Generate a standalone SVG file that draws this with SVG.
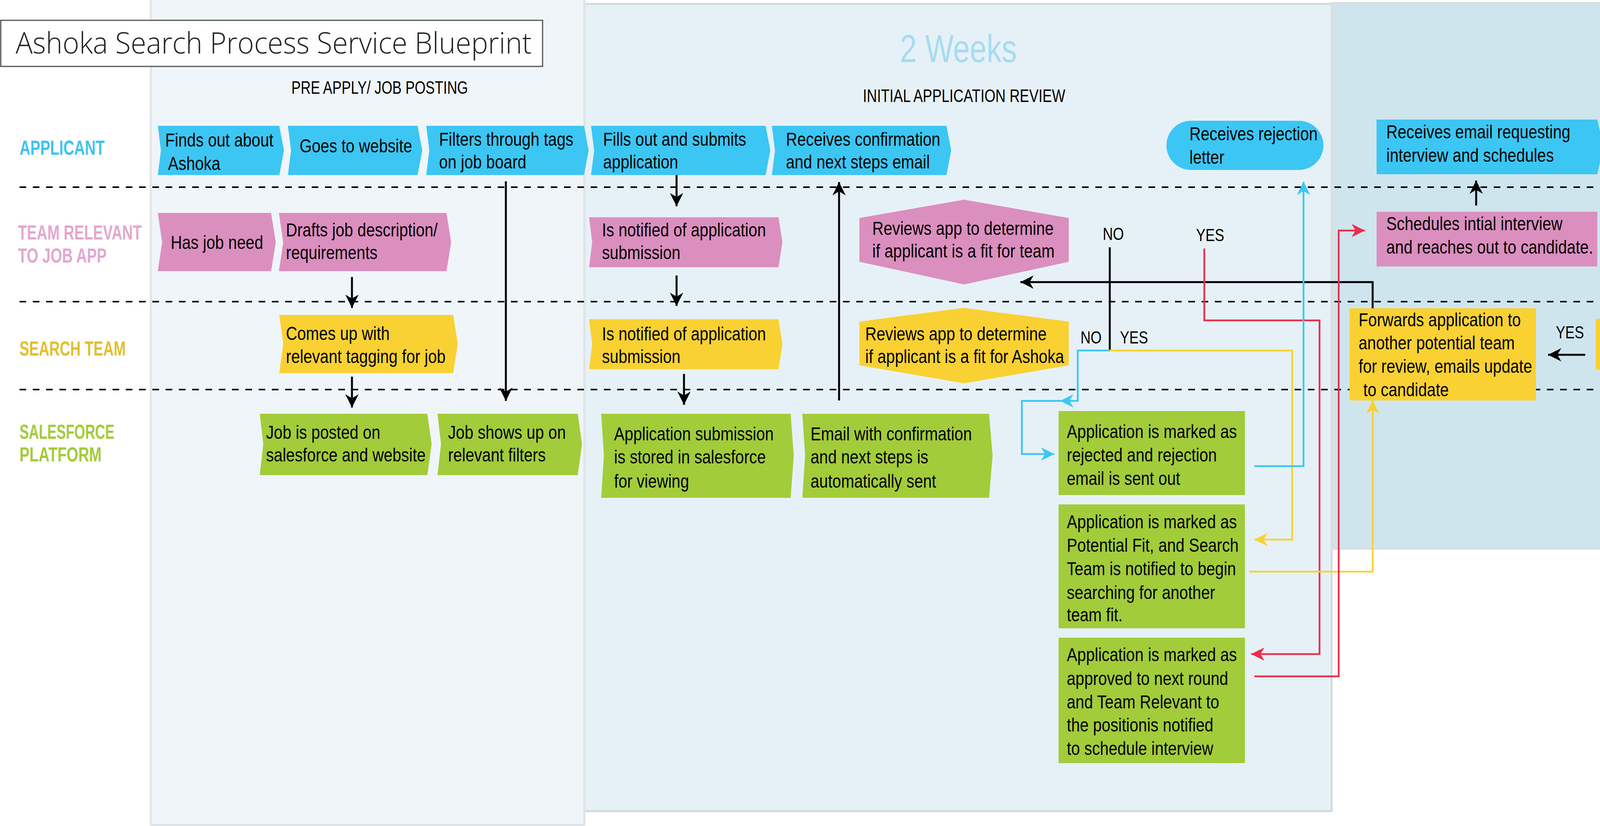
<svg xmlns="http://www.w3.org/2000/svg" width="6898" height="2114" viewBox="0 0 6898 2114">
<defs>
<style>
.t{font-family:'Liberation Sans',Arial,sans-serif;font-size:49px;fill:#000}
.lbl{font-family:'Liberation Sans',Arial,sans-serif;font-size:44px;fill:#000}
.lane{font-family:'Liberation Sans',Arial,sans-serif;font-size:52px;font-weight:bold}
.hd{font-family:'Liberation Sans',Arial,sans-serif;font-size:47px;fill:#000}
.wk{font-family:'Liberation Sans',Arial,sans-serif;font-size:100px;fill:#a6dcf0}
.note{font-family:'Liberation Sans',Arial,sans-serif;font-size:44px;fill:#000}
.blue{fill:#3cc6f3}.pink{fill:#db8fbf}.yel{fill:#f9d132}.grn{fill:#a2cc3a}.pur{fill:#8f8fc7}
.dash{stroke:#000;stroke-width:4;stroke-dasharray:17 17;fill:none}
.k{stroke:#000;stroke-width:5;fill:none}
.cb{stroke:#3cc6f3;stroke-width:4.5;fill:none}
.cy{stroke:#f9d132;stroke-width:4.5;fill:none}
.cr{stroke:#ee2c4b;stroke-width:4.5;fill:none}
</style>
<marker id="ak" viewBox="0 0 10 10" refX="10" refY="5" markerWidth="34" markerHeight="34" markerUnits="userSpaceOnUse" orient="auto"><path d="M0,0 L10,5 L0,10 L3,5 Z" fill="#000"/></marker>
<marker id="ab" viewBox="0 0 10 10" refX="10" refY="5" markerWidth="34" markerHeight="34" markerUnits="userSpaceOnUse" orient="auto"><path d="M0,0 L10,5 L0,10 L3,5 Z" fill="#3cc6f3"/></marker>
<marker id="ay" viewBox="0 0 10 10" refX="10" refY="5" markerWidth="34" markerHeight="34" markerUnits="userSpaceOnUse" orient="auto"><path d="M0,0 L10,5 L0,10 L3,5 Z" fill="#f9d132"/></marker>
<marker id="ar" viewBox="0 0 10 10" refX="10" refY="5" markerWidth="34" markerHeight="34" markerUnits="userSpaceOnUse" orient="auto"><path d="M0,0 L10,5 L0,10 L3,5 Z" fill="#ee2c4b"/></marker>
</defs>
<rect width="6898" height="2114" fill="#ffffff"/>
<g id="panels">
<rect x="1496" y="10" width="1913" height="2066" fill="#e6f1f7" stroke="#d5d9dc" stroke-width="5"/>
<rect x="3409" y="8" width="3482" height="1396" fill="#cfe5ee" stroke="#dcdee0" stroke-width="6"/>
<rect x="386" y="-5" width="1110" height="2116" fill="#eff5f9" stroke="#e0e3e6" stroke-width="5"/>
</g>
<g id="title">
<rect x="2" y="52" width="1387" height="118" fill="#ffffff" stroke="#555555" stroke-width="3"/>
<text x="40" y="137" font-family="'Open Sans','Lato','Liberation Sans',sans-serif" font-weight="300" font-size="76" fill="#222" textLength="1321" lengthAdjust="spacingAndGlyphs">Ashoka Search Process Service Blueprint</text>
</g>
<g id="headings">
<text class="hd" x="746" y="240" textLength="452" lengthAdjust="spacingAndGlyphs">PRE APPLY/ JOB POSTING</text>
<text class="wk" x="2304" y="159" textLength="299" lengthAdjust="spacingAndGlyphs">2 Weeks</text>
<text class="hd" x="2209" y="261" textLength="518" lengthAdjust="spacingAndGlyphs">INITIAL APPLICATION REVIEW</text>
<text class="wk" x="4450" y="140" textLength="299" lengthAdjust="spacingAndGlyphs">2 Weeks</text>
<text class="hd" x="4437" y="224" textLength="326" lengthAdjust="spacingAndGlyphs">INTERVIEW PHASE</text>
</g>
<g id="lanes">
<text class="lane" x="50" y="396" fill="#3fc3ef" textLength="218" lengthAdjust="spacingAndGlyphs">APPLICANT</text>
<text class="lane" x="46" y="613" fill="#e2a7d0" textLength="317" lengthAdjust="spacingAndGlyphs">TEAM RELEVANT</text>
<text class="lane" x="46" y="672" fill="#e2a7d0" textLength="227" lengthAdjust="spacingAndGlyphs">TO JOB APP</text>
<text class="lane" x="50" y="910" fill="#e2bf2e" textLength="272" lengthAdjust="spacingAndGlyphs">SEARCH TEAM</text>
<text class="lane" x="50" y="1123" fill="#a3cb3b" textLength="243" lengthAdjust="spacingAndGlyphs">SALESFORCE</text>
<text class="lane" x="50" y="1181" fill="#a3cb3b" textLength="210" lengthAdjust="spacingAndGlyphs">PLATFORM</text>
<line class="dash" x1="50" y1="479" x2="6892" y2="479"/>
<line class="dash" x1="50" y1="772" x2="6892" y2="772"/>
<line class="dash" x1="50" y1="997" x2="6892" y2="997"/>
</g>
<g id="connectors">
<line class="k" x1="901" y1="709" x2="901" y2="788" marker-end="url(#ak)"/>
<line class="k" x1="901" y1="964" x2="901" y2="1043" marker-end="url(#ak)"/>
<line class="k" x1="1295" y1="464" x2="1295" y2="1026" marker-end="url(#ak)"/>
<line class="k" x1="1732" y1="448" x2="1732" y2="528" marker-end="url(#ak)"/>
<line class="k" x1="1732" y1="705" x2="1732" y2="783" marker-end="url(#ak)"/>
<line class="k" x1="1751" y1="957" x2="1751" y2="1036" marker-end="url(#ak)"/>
<line class="k" x1="2148" y1="1025" x2="2148" y2="466" marker-end="url(#ak)"/>
<path class="k" d="M3514,789 V722 H2612" marker-end="url(#ak)"/>
<line class="k" x1="2841" y1="633" x2="2841" y2="897"/>
<path class="cb" d="M2841,897 H2759 V1026 H2714" marker-end="url(#ab)"/>
<path class="cb" d="M2716,1026 H2616 V1162 H2699" marker-end="url(#ab)"/>
<path class="cy" d="M2841,897 H3308 V1381 H3211" marker-end="url(#ay)"/>
<path class="cr" d="M3083,636 V820 H3378 V1674 H3203" marker-end="url(#ar)"/>
<path class="cb" d="M3211,1193 H3337 V465" marker-end="url(#ab)"/>
<path class="cy" d="M3198,1463 H3514 V1025" marker-end="url(#ay)"/>
<path class="cr" d="M3211,1731 H3427 V590 H3494" marker-end="url(#ar)"/>
<line class="k" x1="3779" y1="526" x2="3779" y2="462" marker-end="url(#ak)"/>
<path class="k" d="M4752,721 V897 H4632" marker-end="url(#ak)"/>
<line class="k" x1="4058" y1="908" x2="3963" y2="908" marker-end="url(#ak)"/>
<path class="k" d="M4347,1017 V1153 H5069" marker-end="url(#ak)"/>
<line class="k" x1="5051" y1="610" x2="5733" y2="610" marker-end="url(#ak)"/>
<line class="k" x1="5342" y1="1053" x2="5342" y2="436" marker-end="url(#ak)"/>
<line class="k" x1="6012" y1="517" x2="6012" y2="452" marker-end="url(#ak)"/>
<path class="k" d="M5577,1404 V1679 H5823"/>
<text class="lbl" transform="matrix(.82 0 0 1 2823 614)">NO</text>
<text class="lbl" transform="matrix(.82 0 0 1 3062 617)">YES</text>
<text class="lbl" transform="matrix(.82 0 0 1 2766 879)">NO</text>
<text class="lbl" transform="matrix(.82 0 0 1 2867 879)">YES</text>
<text class="lbl" transform="matrix(.82 0 0 1 4680 770)">NO</text>
<text class="lbl" transform="matrix(.82 0 0 1 3983 866)">YES</text>
<text class="lbl" transform="matrix(.82 0 0 1 4247 1081)">NO</text>
<text class="lbl" transform="matrix(.82 0 0 1 5102 600)">YES</text>
</g>
<g id="a1"><path class="blue" d="M404,322 H715 L727,385 L715,448 H404 L412,385 Z"/><text class="t" transform="matrix(.82 0 0 1 423 375)">Finds out about</text><text class="t" transform="matrix(.82 0 0 1 430 435)">Ashoka</text></g>
<g id="a2"><path class="blue" d="M737,322 H1069 L1081,385 L1069,448 H737 L745,385 Z"/><text class="t" transform="matrix(.82 0 0 1 767 390)">Goes to website</text></g>
<g id="a3"><path class="blue" d="M1091,322 H1495 L1507,385 L1495,448 H1091 L1099,385 Z"/><text class="t" transform="matrix(.82 0 0 1 1124 373)">Filters through tags</text><text class="t" transform="matrix(.82 0 0 1 1124 431)">on job board</text></g>
<g id="a4"><path class="blue" d="M1513,322 H1960 L1972,385 L1960,448 H1513 L1521,385 Z"/><text class="t" transform="matrix(.82 0 0 1 1544 373)">Fills out and submits</text><text class="t" transform="matrix(.82 0 0 1 1544 431)">application</text></g>
<g id="a5"><path class="blue" d="M1976,322 H2423 L2435,385 L2423,448 H1976 L1984,385 Z"/><text class="t" transform="matrix(.82 0 0 1 2012 373)">Receives confirmation</text><text class="t" transform="matrix(.82 0 0 1 2012 431)">and next steps email</text></g>
<g id="a6"><rect class="blue" x="2986" y="309" width="402" height="126" rx="63"/><text class="t" transform="matrix(.82 0 0 1 3045 359)">Receives rejection</text><text class="t" transform="matrix(.82 0 0 1 3045 419)">letter</text></g>
<g id="a7"><path class="blue" d="M3524,306 H4089 L4105,375 L4089,446 H3524 Z"/><text class="t" transform="matrix(.82 0 0 1 3549 354)">Receives email requesting</text><text class="t" transform="matrix(.82 0 0 1 3549 414)">interview and schedules</text></g>
<g id="a8"><rect class="blue" x="5141" y="289" width="402" height="127" rx="63"/><text class="t" transform="matrix(.82 0 0 1 5199 339)">Receives rejection</text><text class="t" transform="matrix(.82 0 0 1 5199 400)">letter</text></g>
<g id="a9"><rect class="blue" x="5773" y="278" width="646" height="167"/><text class="t" transform="matrix(.82 0 0 1 5797 337)">Notified of interview outcome</text><text class="t" transform="matrix(.82 0 0 1 5797 396)">and next steps, including timeline</text></g>
<g id="t1"><path class="pink" d="M404,545 H694 L706,620 L694,694 H404 L415,620 Z"/><text class="t" transform="matrix(.82 0 0 1 437 637)">Has job need</text></g>
<g id="t2"><path class="pink" d="M714,545 H1143 L1155,620 L1143,694 H714 L725,620 Z"/><text class="t" transform="matrix(.82 0 0 1 732 605)">Drafts job description/</text><text class="t" transform="matrix(.82 0 0 1 732 663)">requirements</text></g>
<g id="t3"><path class="pink" d="M1508,556 H1993 L2003,620 L1993,684 H1508 L1516,620 Z"/><text class="t" transform="matrix(.82 0 0 1 1541 605)">Is notified of application</text><text class="t" transform="matrix(.82 0 0 1 1541 663)">submission</text></g>
<g id="t4"><path class="pink" d="M2200,558 L2468,511 L2736,558 L2736,670 L2468,728 L2200,670 Z"/><text class="t" transform="matrix(.82 0 0 1 2233 601)">Reviews app to determine</text><text class="t" transform="matrix(.82 0 0 1 2233 659)">if applicant is a fit for team</text></g>
<g id="t5"><rect class="pink" x="3524" y="542" width="565" height="140"/><text class="t" transform="matrix(.82 0 0 1 3549 589)">Schedules intial interview</text><text class="t" transform="matrix(.82 0 0 1 3549 649)">and reaches out to candidate.</text></g>
<g id="t6"><rect class="pur" x="4146" y="433" width="356" height="99"/><text class="t" transform="matrix(.82 0 0 1 4171 491)">Interview Occurs</text></g>
<g id="t7"><path class="pink" d="M4477,551 L4764,502 L5051,551 L5051,665 L4764,721 L4477,665 Z"/><text class="t" text-anchor="middle" transform="matrix(.82 0 0 1 4754 561)">Team evaluates if</text><text class="t" text-anchor="middle" transform="matrix(.82 0 0 1 4754 617)">applicant is a good fit</text><text class="t" text-anchor="middle" transform="matrix(.82 0 0 1 4754 673)">and sends notes to search-</text></g>
<g id="t8"><rect class="pink" x="5767" y="516" width="889" height="182"/><text class="t" transform="matrix(.82 0 0 1 5790 565)">Selects ‘Champion’ interviewer, notifies them</text><text class="t" transform="matrix(.82 0 0 1 5790 624)">to schedule an interview with the</text><text class="t" transform="matrix(.82 0 0 1 5790 684)">candidate, forwards notes</text></g>
<g id="s1"><path class="yel" d="M715,806 H1160 L1172,880 L1160,955 H715 L725,880 Z"/><text class="t" transform="matrix(.82 0 0 1 732 870)">Comes up with</text><text class="t" transform="matrix(.82 0 0 1 732 929)">relevant tagging for job</text></g>
<g id="s2"><path class="yel" d="M1508,817 H1993 L2003,881 L1993,945 H1508 L1516,881 Z"/><text class="t" transform="matrix(.82 0 0 1 1541 871)">Is notified of application</text><text class="t" transform="matrix(.82 0 0 1 1541 929)">submission</text></g>
<g id="s3"><path class="yel" d="M2200,823 L2468,788 L2736,823 L2736,935 L2468,981 L2200,935 Z"/><text class="t" transform="matrix(.82 0 0 1 2215 871)">Reviews app to determine</text><text class="t" transform="matrix(.82 0 0 1 2215 929)">if applicant is a fit for Ashoka</text></g>
<g id="s4"><rect class="yel" x="3455" y="789" width="477" height="236"/><text class="t" transform="matrix(.82 0 0 1 3478 835)">Forwards application to</text><text class="t" transform="matrix(.82 0 0 1 3478 894)">another potential team</text><text class="t" transform="matrix(.82 0 0 1 3478 954)">for review, emails update</text><text class="t" transform="matrix(.82 0 0 1 3490 1014)">to candidate</text></g>
<g id="s5"><path class="yel" d="M4085,817 L4347,779 L4608,817 L4608,945 L4347,987 L4085,945 Z"/><text class="t" transform="matrix(.82 0 0 1 4108 859)">Could applicant possibly</text><text class="t" transform="matrix(.82 0 0 1 4108 920)">be a fit for another team?</text></g>
<g id="g1"><path class="grn" d="M665,1059 H1094 L1105,1137 L1094,1216 H665 L674,1137 Z"/><text class="t" transform="matrix(.82 0 0 1 681 1123)">Job is posted on</text><text class="t" transform="matrix(.82 0 0 1 681 1181)">salesforce and website</text></g>
<g id="g2"><path class="grn" d="M1120,1059 H1479 L1490,1137 L1479,1216 H1120 L1129,1137 Z"/><text class="t" transform="matrix(.82 0 0 1 1147 1123)">Job shows up on</text><text class="t" transform="matrix(.82 0 0 1 1147 1181)">relevant filters</text></g>
<g id="g3"><path class="grn" d="M1539,1059 H2024 L2032,1166 L2024,1274 H1539 L1546,1166 Z"/><text class="t" transform="matrix(.82 0 0 1 1572 1127)">Application submission</text><text class="t" transform="matrix(.82 0 0 1 1572 1186)">is stored in salesforce</text><text class="t" transform="matrix(.82 0 0 1 1572 1248)">for viewing</text></g>
<g id="g4"><path class="grn" d="M2054,1059 H2532 L2541,1166 L2532,1274 H2054 L2061,1166 Z"/><text class="t" transform="matrix(.82 0 0 1 2075 1127)">Email with confirmation</text><text class="t" transform="matrix(.82 0 0 1 2075 1186)">and next steps is</text><text class="t" transform="matrix(.82 0 0 1 2075 1248)">automatically sent</text></g>
<g id="g5"><rect class="grn" x="2710" y="1052" width="477" height="215"/><text class="t" transform="matrix(.82 0 0 1 2731 1121)">Application is marked as</text><text class="t" transform="matrix(.82 0 0 1 2731 1181)">rejected and rejection</text><text class="t" transform="matrix(.82 0 0 1 2731 1241)">email is sent out</text></g>
<g id="g6"><rect class="grn" x="2710" y="1291" width="477" height="317"/><text class="t" transform="matrix(.82 0 0 1 2731 1352)">Application is marked as</text><text class="t" transform="matrix(.82 0 0 1 2731 1412)">Potential Fit, and Search</text><text class="t" transform="matrix(.82 0 0 1 2731 1472)">Team is notified to begin</text><text class="t" transform="matrix(.82 0 0 1 2731 1533)">searching for another</text><text class="t" transform="matrix(.82 0 0 1 2731 1590)">team fit.</text></g>
<g id="g7"><rect class="grn" x="2710" y="1632" width="477" height="321"/><text class="t" transform="matrix(.82 0 0 1 2731 1692)">Application is marked as</text><text class="t" transform="matrix(.82 0 0 1 2731 1753)">approved to next round</text><text class="t" transform="matrix(.82 0 0 1 2731 1813)">and Team Relevant to</text><text class="t" transform="matrix(.82 0 0 1 2731 1872)">the positionis notified</text><text class="t" transform="matrix(.82 0 0 1 2731 1932)">to schedule interview</text></g>
<g id="g8"><rect class="grn" x="5099" y="1053" width="478" height="216"/><text class="t" transform="matrix(.82 0 0 1 5118 1121)">Application is marked as</text><text class="t" transform="matrix(.82 0 0 1 5118 1181)">rejected and rejection</text><text class="t" transform="matrix(.82 0 0 1 5118 1241)">email is sent out</text></g>
<g id="note"><rect x="5823" y="1512" width="924" height="548" fill="#c0dce8" stroke="#b5b5b5" stroke-width="5"/>
<text class="note" transform="matrix(.82 0 0 1 5846 1576)">This cycle continues for 2nd Opinion, Roleplay,</text>
<text class="note" transform="matrix(.82 0 0 1 5846 1631)">Minipanel, and finally Panel. At each stage it is crucial</text>
<text class="note" transform="matrix(.82 0 0 1 5846 1686)">that the interviewer fills out and forwards their</text>
<text class="note" transform="matrix(.82 0 0 1 5846 1741)">interview notes to send back to search. If an applicant</text>
<text class="note" transform="matrix(.82 0 0 1 5846 1796)">does not pass a round, they will be notifed via email</text>
<text class="note" transform="matrix(.82 0 0 1 5846 1850)">that the team is not currently interested in moving</text>
<text class="note" transform="matrix(.82 0 0 1 5846 1905)">forward, but they will be kept in the pipeline because</text>
<text class="note" transform="matrix(.82 0 0 1 5846 1960)" xml:space="preserve">they are seen as a good fit for Ashoka.  If the applicant</text>
<text class="note" transform="matrix(.82 0 0 1 5846 2015)">passes all rounds, they are hired!</text>
</g>
</svg>
